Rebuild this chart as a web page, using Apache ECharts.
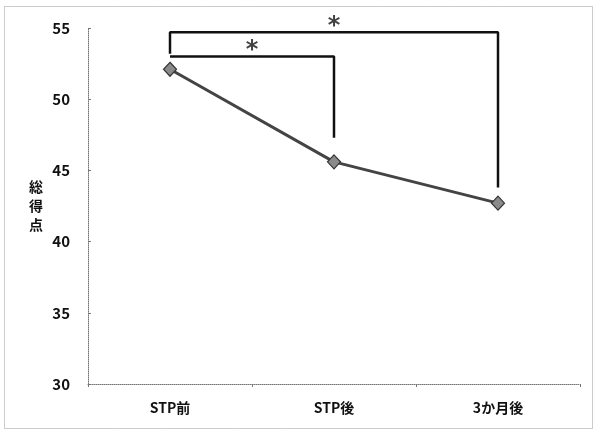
<!DOCTYPE html>
<html>
<head>
<meta charset="utf-8">
<script src="https://cdn.jsdelivr.net/npm/echarts@6/dist/echarts.min.js"></script>
<style>
  html, body { margin: 0; padding: 0; background: #fff; }
  #chart { width: 595px; height: 435px; }
</style>
</head>
<body>
<div id="chart"></div>
<script>
// Total score at three time points
const categories = ['STP前', 'STP後', '3か月後'];
const totalScore = [52.1, 45.6, 42.7];
const yTicks = { min: 30, max: 55, interval: 5 };

// Significance brackets: [category index, value] vertices
const bracketOuter = [[0, 53.2], [0, 54.7], [2, 54.7], [2, 43.8]];
const bracketInner = [[0, 53.0], [1, 53.0], [1, 47.3]];
// Asterisk marks: [category index, value]
const stars = [[1, 54.7], [0.5, 53.0]];

const chart = echarts.init(document.getElementById('chart'));
const font = '"Noto Sans CJK JP", "Liberation Sans", sans-serif';

chart.setOption({
  animation: false,
  backgroundColor: '#fff',
  grid: { left: 88, right: 15, top: 28, bottom: 51 },
  xAxis: [
    {
      type: 'category',
      data: categories,
      boundaryGap: true,
      axisLine: { lineStyle: { color: '#777', width: 1, type: 'dotted' } },
      axisTick: { show: true, inside: false, length: 3, lineStyle: { color: '#777' } },
      axisLabel: { color: '#111', fontFamily: font, fontWeight: 'bold', fontSize: 14, margin: 17 }
    },
    {
      type: 'value',
      min: -0.5, max: 2.5,
      show: false
    }
  ],
  yAxis: {
    type: 'value',
    min: yTicks.min, max: yTicks.max, interval: yTicks.interval,
    name: '総\n得\n点',
    nameLocation: 'middle',
    nameRotate: 0,
    nameGap: 45,
    nameTextStyle: { color: '#111', fontFamily: font, fontWeight: 'bold', fontSize: 14, lineHeight: 19 },
    axisLine: { show: true, onZero: false, lineStyle: { color: '#777', width: 1, type: 'dotted' } },
    axisTick: { show: true, inside: true, length: 3, lineStyle: { color: '#777' } },
    splitLine: { show: false },
    axisLabel: { color: '#111', fontFamily: font, fontWeight: 'bold', fontSize: 15, margin: 18 }
  },
  graphic: [{
    type: 'rect',
    shape: { x: 4.5, y: 6.5, width: 588, height: 422 },
    style: { fill: 'none', stroke: '#999', lineWidth: 1, lineDash: [1, 1] },
    silent: true
  }],
  series: [
    {
      type: 'line',
      xAxisIndex: 1,
      data: bracketOuter,
      symbol: 'none',
      lineStyle: { color: '#111', width: 2.5 },
      z: 1
    },
    {
      type: 'line',
      xAxisIndex: 1,
      data: bracketInner,
      symbol: 'none',
      lineStyle: { color: '#111', width: 2.5 },
      z: 1
    },
    {
      type: 'scatter',
      xAxisIndex: 1,
      data: stars,
      symbolSize: 0,
      label: {
        show: true,
        formatter: '*',
        position: 'top',
        distance: -6,
        color: '#111',
        fontFamily: '"DejaVu Sans", sans-serif',
        fontWeight: 'bold',
        fontSize: 24
      },
      z: 2
    },
    {
      type: 'line',
      data: totalScore,
      symbol: 'diamond',
      symbolSize: [13, 14],
      lineStyle: { color: '#444', width: 3 },
      itemStyle: { color: '#8a8a8a', borderColor: '#333', borderWidth: 1.2 },
      z: 3
    }
  ]
});
</script>
</body>
</html>
